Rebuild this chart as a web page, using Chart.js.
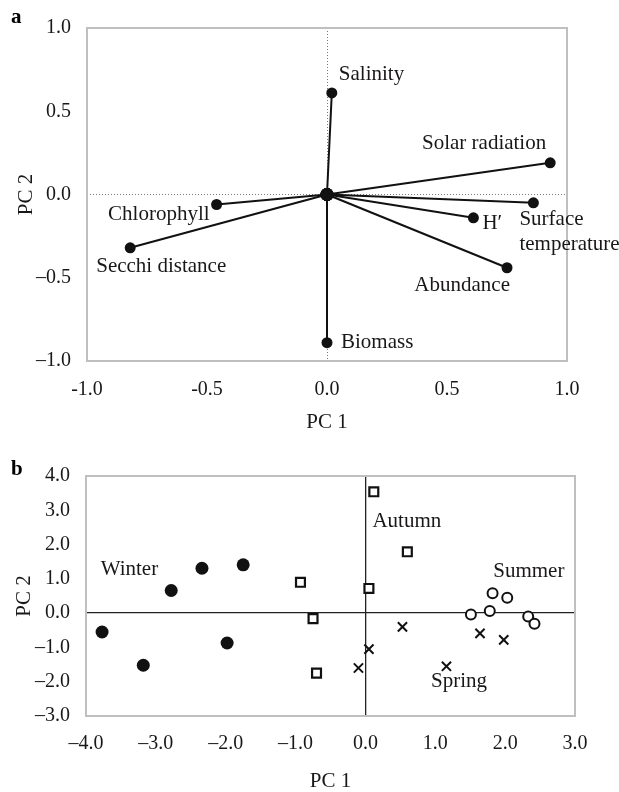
<!DOCTYPE html>
<html>
<head>
<meta charset="utf-8">
<script src="https://cdn.jsdelivr.net/npm/chart.js@4/dist/chart.umd.min.js"></script>
<style>
  html, body { margin: 0; padding: 0; background: #fff; overflow: hidden; }
  canvas { position: absolute; left: 0; }
  #pcaA { top: 0; }
  #pcaB { top: 440px; }
</style>
</head>
<body>
<canvas id="pcaA" width="619" height="440"></canvas>
<canvas id="pcaB" width="619" height="352"></canvas>
<script>
// panel a: variable loadings
const varNames = ["Salinity", "Solar radiation", "Surface\ntemperature", "H\u2032", "Abundance", "Biomass", "Chlorophyll", "Secchi distance"];
const pc1Load = [0.02, 0.93, 0.86, 0.61, 0.75, 0.00, -0.46, -0.82];
const pc2Load = [0.61, 0.19, -0.05, -0.14, -0.44, -0.89, -0.06, -0.32];
const topXTicks = ["-1.0", "-0.5", "0.0", "0.5", "1.0"];
const topYTicks = ["\u20131.0", "\u20130.5", "0.0", "0.5", "1.0"];

// panel b: sample scores by season
const seasons = ["Winter", "Autumn", "Spring", "Summer"];
const winterX = [-3.77, -3.18, -2.78, -2.34, -1.98, -1.75];
const winterY = [-0.55, -1.52, 0.66, 1.31, -0.87, 1.41];
const autumnX = [0.12, 0.60, -0.93, 0.05, -0.75, -0.70];
const autumnY = [3.54, 1.79, 0.90, 0.72, -0.16, -1.75];
const springX = [0.53, 0.05, -0.10, 1.16, 1.64, 1.98];
const springY = [-0.40, -1.05, -1.60, -1.55, -0.59, -0.78];
const summerX = [1.51, 1.82, 1.78, 2.03, 2.33, 2.42];
const summerY = [-0.04, 0.58, 0.06, 0.45, -0.10, -0.31];
const botXTicks = ["\u20134.0", "\u20133.0", "\u20132.0", "\u20131.0", "0.0", "1.0", "2.0", "3.0"];
const botYTicks = ["\u20133.0", "\u20132.0", "\u20131.0", "0.0", "1.0", "2.0", "3.0", "4.0"];

// label placement (pixels from the point for a, data units for b)
const labelDx = [7, -4, -14, 9, 3, 14, -7, -34];
const labelDy = [-18, -19, 17, 6, 18, 0, 10, 19];
const labelAlign = ["left", "right", "left", "left", "right", "left", "right", "left"];
const seasonLabelX = [-3.79, 0.10, 0.94, 1.83];
const seasonLabelY = [1.26, 2.67, -2.0, 1.21];

const serif = '"Liberation Serif", "Times New Roman", serif';
const ink = "#1a1718";

Chart.defaults.font.family = serif;
Chart.defaults.color = ink;

const framePlugin = {
   id: "frame",
   beforeDatasetsDraw(chart) {
      const { ctx, chartArea: a } = chart;
      ctx.save();
      ctx.strokeStyle = "#bfbfbf";
      ctx.lineWidth = 2;
      ctx.strokeRect(a.left, a.top, a.width, a.height);
      ctx.restore();
   }
};

const panelLetter = {
   id: "panelLetter",
   afterDraw(chart, args, opts) {
      const { ctx } = chart;
      ctx.save();
      ctx.font = "bold 21px " + serif;
      ctx.fillStyle = "#000";
      ctx.textBaseline = "alphabetic";
      ctx.fillText(opts.text, opts.x, opts.y);
      ctx.restore();
   }
};

const loadingLabels = {
   id: "loadingLabels",
   afterDatasetsDraw(chart) {
      const { ctx, scales: { x, y } } = chart;
      ctx.save();
      ctx.font = "21px " + serif;
      ctx.fillStyle = ink;
      ctx.textBaseline = "middle";
      varNames.forEach((name, i) => {
         const px = x.getPixelForValue(pc1Load[i]) + labelDx[i];
         const py = y.getPixelForValue(pc2Load[i]) + labelDy[i];
         ctx.textAlign = labelAlign[i];
         name.split("\n").forEach((line, k) => ctx.fillText(line, px, py + k * 25));
      });
      ctx.restore();
   }
};

const seasonLabels = {
   id: "seasonLabels",
   afterDatasetsDraw(chart) {
      const { ctx, scales: { x, y } } = chart;
      ctx.save();
      ctx.font = "21px " + serif;
      ctx.fillStyle = ink;
      ctx.textBaseline = "middle";
      ctx.textAlign = "left";
      seasons.forEach((name, i) => {
         ctx.fillText(name, x.getPixelForValue(seasonLabelX[i]), y.getPixelForValue(seasonLabelY[i]));
      });
      ctx.restore();
   }
};

function makeAxis(cfg) {
   const horizontal = cfg.horizontal;
   return {
      type: "linear",
      position: horizontal ? "bottom" : "left",
      min: cfg.min,
      max: cfg.max,
      afterFit(scale) {
         if (horizontal) {
            scale.height = cfg.size;
         } else {
            scale.width = cfg.size;
         }
      },
      ticks: {
         stepSize: cfg.step,
         padding: cfg.tickPad,
         font: { size: 20 },
         color: ink,
         callback: (value, index) => cfg.labels[index]
      },
      grid: {
         drawTicks: false,
         lineWidth: cfg.zeroWidth,
         color: (context) => (context.tick && context.tick.value === 0 ? cfg.zeroColor : "transparent")
      },
      border: { display: false, dash: cfg.dash },
      title: {
         display: true,
         text: "PC " + (horizontal ? 1 : 2),
         color: ink,
         font: { size: 21, lineHeight: 1 },
         padding: horizontal ? { top: 0, bottom: cfg.titlePad } : { top: cfg.titlePad, bottom: 0 }
      }
   };
}

const loadingSets = varNames.map((name, i) => ({
   label: name,
   data: [{ x: 0, y: 0 }, { x: pc1Load[i], y: pc2Load[i] }],
   showLine: true,
   borderColor: "#111",
   backgroundColor: "#111",
   borderWidth: 2,
   pointRadius: [6.5, 5.5],
   pointBorderWidth: 0
}));

new Chart(document.getElementById("pcaA").getContext("2d"), {
   type: "scatter",
   data: { datasets: loadingSets },
   options: {
      responsive: false,
      animation: false,
      layout: { padding: { top: 25, right: 52, bottom: 0, left: 0 } },
      scales: {
         x: makeAxis({ horizontal: true, min: -1, max: 1, step: 0.5, labels: topXTicks, size: 79, tickPad: 17, titlePad: 7, zeroColor: "#7a7a7a", zeroWidth: 1, dash: [1, 2] }),
         y: makeAxis({ horizontal: false, min: -1, max: 1, step: 0.5, labels: topYTicks, size: 87, tickPad: 16, titlePad: 16, zeroColor: "#7a7a7a", zeroWidth: 1, dash: [1, 2] })
      },
      plugins: {
         legend: { display: false },
         tooltip: { enabled: false },
         panelLetter: { text: "a", x: 11, y: 23 }
      }
   },
   plugins: [framePlugin, loadingLabels, panelLetter]
});

function toPoints(xs, ys) {
   return xs.map((v, i) => ({ x: v, y: ys[i] }));
}

new Chart(document.getElementById("pcaB").getContext("2d"), {
   type: "scatter",
   data: {
      datasets: [
         { label: "Winter", data: toPoints(winterX, winterY), pointStyle: "circle", pointRadius: 6.5, backgroundColor: "#111", borderColor: "#111", borderWidth: 0 },
         { label: "Autumn", data: toPoints(autumnX, autumnY), pointStyle: "rect", pointRadius: 6.3, backgroundColor: "#fff", borderColor: "#111", borderWidth: 2.2 },
         { label: "Spring", data: toPoints(springX, springY), pointStyle: "crossRot", pointRadius: 6.5, backgroundColor: "#111", borderColor: "#111", borderWidth: 2 },
         { label: "Summer", data: toPoints(summerX, summerY), pointStyle: "circle", pointRadius: 5, backgroundColor: "#fff", borderColor: "#111", borderWidth: 2 }
      ]
   },
   options: {
      responsive: false,
      animation: false,
      layout: { padding: { top: 36, right: 44, bottom: 0, left: 0 } },
      scales: {
         x: makeAxis({ horizontal: true, min: -4, max: 3, step: 1, labels: botXTicks, size: 76, tickPad: 16, titlePad: 0, zeroColor: "#222", zeroWidth: 1.3, dash: [] }),
         y: makeAxis({ horizontal: false, min: -3, max: 4, step: 1, labels: botYTicks, size: 86, tickPad: 16, titlePad: 14, zeroColor: "#222", zeroWidth: 1.3, dash: [] })
      },
      plugins: {
         legend: { display: false },
         tooltip: { enabled: false },
         panelLetter: { text: "b", x: 11, y: 35 }
      }
   },
   plugins: [framePlugin, seasonLabels, panelLetter]
});
</script>
</body>
</html>
